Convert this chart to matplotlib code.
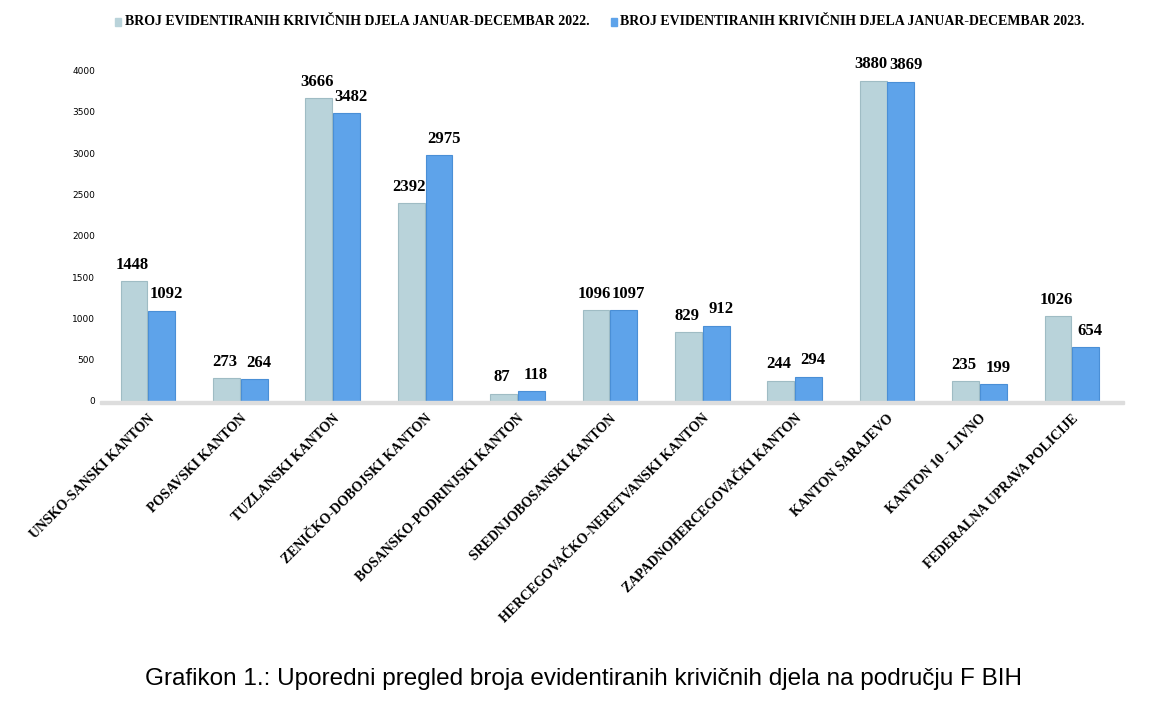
import matplotlib
matplotlib.use("Agg")
import matplotlib.pyplot as plt
import numpy as np

categories = ["UNSKO-SANSKI KANTON", "POSAVSKI KANTON", "TUZLANSKI KANTON",
              "ZENIČKO-DOBOJSKI KANTON", "BOSANSKO-PODRINJSKI KANTON",
              "SREDNJOBOSANSKI KANTON", "HERCEGOVAČKO-NERETVANSKI KANTON",
              "ZAPADNOHERCEGOVAČKI KANTON", "KANTON SARAJEVO", "KANTON 10 - LIVNO",
              "FEDERALNA UPRAVA POLICIJE"]
v2022 = [1448, 273, 3666, 2392, 87, 1096, 829, 244, 3880, 235, 1026]
v2023 = [1092, 264, 3482, 2975, 118, 1097, 912, 294, 3869, 199, 654]
series = ["BROJ EVIDENTIRANIH KRIVIČNIH DJELA JANUAR-DECEMBAR 2022.",
          "BROJ EVIDENTIRANIH KRIVIČNIH DJELA JANUAR-DECEMBAR 2023."]
yticks = [0, 500, 1000, 1500, 2000, 2500, 3000, 3500, 4000]

fig = plt.figure(figsize=(11.75, 7.07), dpi=100)
ax = fig.add_axes([0.085, 0.433, 0.872, 0.467])
x = np.arange(len(categories))
w = 0.29
c1, c2 = "#b9d3da", "#5ea3ea"
ax.bar(x - 0.15, v2022, w, color=c1, edgecolor="#9fbcc4", linewidth=0.8)
ax.bar(x + 0.15, v2023, w, color=c2, edgecolor="#4a8fd6", linewidth=0.8)
serif = "Liberation Serif"
for i in x:
    ax.text(i - 0.17, v2022[i] + 100, str(v2022[i]), ha="center", va="bottom",
            fontsize=12, fontweight="bold", family=serif)
    ax.text(i + 0.2, v2023[i] + 100, str(v2023[i]), ha="center", va="bottom",
            fontsize=12, fontweight="bold", family=serif)
ax.set_xlim(-0.52, 10.57)
ax.set_ylim(0, 4000)
ax.set_yticks(yticks)
ax.set_yticklabels([str(t) for t in yticks], fontsize=6.5)
ax.set_xticks(x)
ax.set_xticklabels(categories, rotation=45, ha="right", rotation_mode="anchor",
                   fontsize=10, fontweight="bold", family=serif)
ax.tick_params(length=0, axis="x", pad=8)
ax.tick_params(length=0, axis="y")
for s in ax.spines.values():
    s.set_visible(False)
ax.axhspan(-40, 0, color="#dddddd", clip_on=False)

# legend
fig.patches.append(plt.Rectangle((0.098, 0.963), 0.005, 0.012, color=c1, transform=fig.transFigure))
fig.text(0.106, 0.969, series[0], fontsize=10, fontweight="bold", family=serif, va="center")
fig.patches.append(plt.Rectangle((0.520, 0.963), 0.005, 0.012, color=c2, transform=fig.transFigure))
fig.text(0.528, 0.969, series[1], fontsize=10, fontweight="bold", family=serif, va="center")

fig.text(0.497, 0.040, "Grafikon 1.: Uporedni pregled broja evidentiranih krivičnih djela na području F BIH",
         ha="center", va="center", fontsize=17.5, family="Liberation Sans")
fig.savefig("out.png", dpi=100)
